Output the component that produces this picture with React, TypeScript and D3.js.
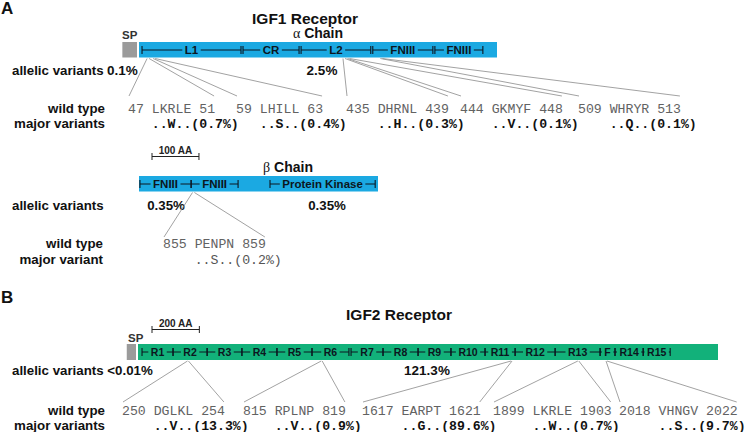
import React, { useEffect, useRef } from "react";
import * as d3 from "d3";

const W = 745;
const H = 432;
const BLUE = "#1ba9e2";
const GREEN = "#12b17a";
const SP_GRAY = "#9b9b9b";
const LINE_GRAY = "#8a8a8a";
const SANS = "'Liberation Sans', Arial, Helvetica, sans-serif";
const MONO = "'Liberation Mono', 'Courier New', monospace";
const SERIF = "'Liberation Serif', 'Times New Roman', serif";

// ---------- IGF1 receptor (residue numbers) ----------
const alphaSignal = [1, 30];
const alphaChain = [31, 740];
const alphaDomains = [
  { label: "L1", start: 37, end: 233 },
  { label: "CR", start: 237, end: 348 },
  { label: "L2", start: 352, end: 490 },
  { label: "FNIII", start: 494, end: 613 },
  { label: "FNIII", start: 617, end: 712 },
];
const alphaVariants = [
  { start: 47, end: 51, wt: "LKRLE", mut: "..W..", freq: "0.7%" },
  { start: 59, end: 63, wt: "LHILL", mut: "..S..", freq: "0.4%" },
  { start: 435, end: 439, wt: "DHRNL", mut: "..H..", freq: "0.3%" },
  { start: 444, end: 448, wt: "GKMYF", mut: "..V..", freq: "0.1%" },
  { start: 509, end: 513, wt: "WHRYR", mut: "..Q..", freq: "0.1%" },
];
const alphaAllelic = ["0.1%", "2.5%"];

const betaChain = [741, 1250];
const betaDomains = [
  { label: "FNIII", start: 743, end: 852 },
  { label: "FNIII", start: 852, end: 952 },
  { label: "Protein Kinase", start: 1020, end: 1244 },
];
const betaVariants = [
  { start: 855, end: 859, wt: "PENPN", mut: "..S..", freq: "0.2%" },
];
const betaAllelic = ["0.35%", "0.35%"];

// ---------- IGF2 receptor ----------
const igf2Signal = [1, 40];
const igf2Chain = [41, 2491];
const igf2Domains = [
  { label: "R1", start: 58, end: 189 },
  { label: "R2", start: 189, end: 333 },
  { label: "R3", start: 333, end: 480 },
  { label: "R4", start: 480, end: 628 },
  { label: "R5", start: 628, end: 776 },
  { label: "R6", start: 776, end: 932 },
  { label: "R7", start: 941, end: 1076 },
  { label: "R8", start: 1076, end: 1224 },
  { label: "R9", start: 1224, end: 1363 },
  { label: "R10", start: 1363, end: 1507 },
  { label: "R11", start: 1507, end: 1634 },
  { label: "R12", start: 1634, end: 1803 },
  { label: "R13", start: 1803, end: 1993 },
  { label: "F", start: 1993, end: 2056 },
  { label: "R14", start: 2056, end: 2175 },
  { label: "R15", start: 2175, end: 2289 },
];
const igf2Variants = [
  { start: 250, end: 254, wt: "DGLKL", mut: "..V..", freq: "13.3%" },
  { start: 815, end: 819, wt: "RPLNP", mut: "..V..", freq: "0.9%" },
  { start: 1617, end: 1621, wt: "EARPT", mut: "..G..", freq: "89.6%" },
  { start: 1899, end: 1903, wt: "LKRLE", mut: "..W..", freq: "0.7%" },
  { start: 2018, end: 2022, wt: "VHNGV", mut: "..S..", freq: "9.7%" },
];
const igf2Allelic = ["<0.01%", "121.3%"];

// ---------- layout (pixels) ----------
const L = {
  alphaRange: [139, 497],
  betaRange: [139, 378],
  igf2Range: [138, 718],
  alphaLabelX: [128, 236, 346, 460, 578],
  betaLabelX: [163],
  igf2LabelX: [122, 243, 362, 493, 619],
};

type Domain = { label: string; start: number; end: number };
type Variant = { start: number; end: number; wt: string; mut: string; freq: string };

function text(g: any, x: number, y: number, s: string, o: any = {}) {
  const t = g
    .append("text")
    .attr("x", x)
    .attr("y", y)
    .attr("font-family", o.family || SANS)
    .attr("font-size", o.size || 13.3)
    .attr("font-weight", o.weight || "bold")
    .attr("fill", o.fill || "#111")
    .attr("text-anchor", o.anchor || "start")
    .text(s);
  return t;
}

function drawBar(g: any, x: any, chain: number[], signal: number[] | null, color: string, y: number, h: number) {
  g.append("rect")
    .attr("x", x(chain[0]))
    .attr("y", y)
    .attr("width", x(chain[1]) - x(chain[0]))
    .attr("height", h)
    .attr("fill", color);
  if (signal) {
    const w = x(signal[1]) - x(signal[0]);
    g.append("rect")
      .attr("x", x(chain[0]) - 2 - w)
      .attr("y", y)
      .attr("width", w)
      .attr("height", h)
      .attr("fill", SP_GRAY);
  }
}

function drawDomains(g: any, x: any, domains: Domain[], cy: number, size: number) {
  domains.forEach((d) => {
    const x0 = x(d.start);
    const x1 = x(d.end);
    const cx = (x0 + x1) / 2;
    const t = text(g, cx, cy + size * 0.36, d.label, { size, anchor: "middle", fill: "#0c1620" });
    const tw = (t.node() as SVGTextElement).getComputedTextLength();
    const pad = 2.5;
    const segs = [
      [x0, cx - tw / 2 - pad],
      [cx + tw / 2 + pad, x1],
    ];
    segs.forEach(([a, b]) => {
      if (b > a)
        g.append("line")
          .attr("x1", a).attr("x2", b)
          .attr("y1", cy).attr("y2", cy)
          .attr("stroke", "#0c1620").attr("stroke-width", 1);
    });
    [x0, x1].forEach((xx) =>
      g.append("line")
        .attr("x1", xx).attr("x2", xx)
        .attr("y1", cy - 4).attr("y2", cy + 4)
        .attr("stroke", "#0c1620").attr("stroke-width", 1.1)
    );
  });
}

function drawVariants(
  g: any,
  x: any,
  variants: Variant[],
  labelX: number[],
  cfg: { top: number; bottom: number; wildY: number; majorY: number; majorBold: boolean; majorFill: string }
) {
  variants.forEach((v, i) => {
    const lx = labelX[i];
    const s = `${v.start} ${v.wt} ${v.end}`;
    const wt = text(g, lx, cfg.wildY, s, {
      family: MONO, size: 13.2, weight: "normal", fill: "#626262",
    });
    const tw = (wt.node() as SVGTextElement).getComputedTextLength();
    const cw = tw / s.length;
    text(g, lx + (String(v.start).length + 1) * cw, cfg.majorY, `${v.mut}(${v.freq})`, {
      family: MONO, size: 13.2, weight: cfg.majorBold ? "bold" : "normal", fill: cfg.majorFill,
    });
    const lines = [
      [x(v.start), lx + 1],
      [x(v.end), lx + tw - 1],
    ];
    lines.forEach(([a, b]) =>
      g.append("line")
        .attr("x1", a).attr("y1", cfg.top)
        .attr("x2", b).attr("y2", cfg.bottom)
        .attr("stroke", LINE_GRAY).attr("stroke-width", 0.8)
    );
  });
}

function scaleBar(g: any, x0: number, len: number, y: number, label: string) {
  g.append("line").attr("x1", x0).attr("x2", x0 + len).attr("y1", y).attr("y2", y)
    .attr("stroke", "#222").attr("stroke-width", 1);
  [x0, x0 + len].forEach((xx) =>
    g.append("line").attr("x1", xx).attr("x2", xx).attr("y1", y - 3.5).attr("y2", y + 3.5)
      .attr("stroke", "#222").attr("stroke-width", 1)
  );
  text(g, x0 + len / 2, y - 3, label, { size: 10, anchor: "middle", fill: "#222" });
}

function chainTitle(g: any, cx: number, y: number, greek: string) {
  const t = g.append("text").attr("x", cx).attr("y", y).attr("text-anchor", "middle")
    .attr("font-size", 14).attr("fill", "#111");
  t.append("tspan").attr("font-family", SERIF).attr("font-weight", "normal").text(greek);
  t.append("tspan").attr("font-family", SANS).attr("font-weight", "bold").text(" Chain");
}

export default function App() {
  const ref = useRef<SVGSVGElement>(null);
  useEffect(() => {
    const svg = d3.select(ref.current);
    svg.selectAll("*").remove();
    const g = svg.append("g");

    const xA = d3.scaleLinear().domain(alphaChain).range(L.alphaRange);
    const xB = d3.scaleLinear().domain(betaChain).range(L.betaRange);
    const x2 = d3.scaleLinear().domain(igf2Chain).range(L.igf2Range);

    // ===== Panel A =====
    text(g, 1, 14, "A", { size: 17 });
    text(g, 305, 23.5, "IGF1 Receptor", { size: 15.5, anchor: "middle" });
    chainTitle(g, 318, 38, "α");
    text(g, 122, 38.5, "SP", { size: 11.5, fill: "#333" });
    drawBar(g, xA, alphaChain, alphaSignal, BLUE, 42, 15.5);
    drawDomains(g, xA, alphaDomains, 50, 11.5);

    text(g, 12, 74.5, "allelic variants");
    text(g, 107, 74.5, alphaAllelic[0], { size: 13.5 });
    text(g, 322, 75, alphaAllelic[1], { size: 13.5, anchor: "middle" });

    drawVariants(g, xA, alphaVariants, L.alphaLabelX, {
      top: 58.5, bottom: 96, wildY: 112.5, majorY: 127.5, majorBold: true, majorFill: "#111",
    });
    text(g, 105, 112.5, "wild type", { anchor: "end" });
    text(g, 105, 127.5, "major variants", { anchor: "end" });

    // beta chain
    scaleBar(g, 152, xB(841) - xB(741), 156.5, "100 AA");
    chainTitle(g, 288, 172, "β");
    drawBar(g, xB, betaChain, null, BLUE, 176, 15.5);
    drawDomains(g, xB, betaDomains, 184, 11.5);
    text(g, 12, 209.5, "allelic variants");
    text(g, 166, 209.5, betaAllelic[0], { size: 13.3, anchor: "middle" });
    text(g, 327, 209.5, betaAllelic[1], { size: 13.3, anchor: "middle" });
    drawVariants(g, xB, betaVariants, L.betaLabelX, {
      top: 192.5, bottom: 237, wildY: 247.5, majorY: 264, majorBold: false, majorFill: "#555",
    });
    text(g, 103, 247.5, "wild type", { anchor: "end" });
    text(g, 103, 264, "major variant", { anchor: "end" });

    // ===== Panel B =====
    text(g, 1, 302.5, "B", { size: 17 });
    text(g, 399, 320, "IGF2 Receptor", { size: 15.5, anchor: "middle" });
    scaleBar(g, 152, x2(241) - x2(41), 329.5, "200 AA");
    text(g, 128, 341.5, "SP", { size: 11.5, fill: "#333" });
    drawBar(g, x2, igf2Chain, igf2Signal, GREEN, 344, 16);
    drawDomains(g, x2, igf2Domains, 352, 10.5);
    text(g, 12, 374.5, "allelic variants " + igf2Allelic[0]);
    text(g, 427, 375, igf2Allelic[1], { size: 13.5, anchor: "middle" });
    drawVariants(g, x2, igf2Variants, L.igf2LabelX, {
      top: 361, bottom: 402, wildY: 414.5, majorY: 429.5, majorBold: true, majorFill: "#111",
    });
    text(g, 105, 414.5, "wild type", { anchor: "end" });
    text(g, 105, 429.5, "major variants", { anchor: "end" });
  }, []);

  return (
    <svg
      ref={ref}
      width={W}
      height={H}
      style={{ position: "fixed", left: 0, top: 0, background: "#fff", display: "block" }}
    />
  );
}
